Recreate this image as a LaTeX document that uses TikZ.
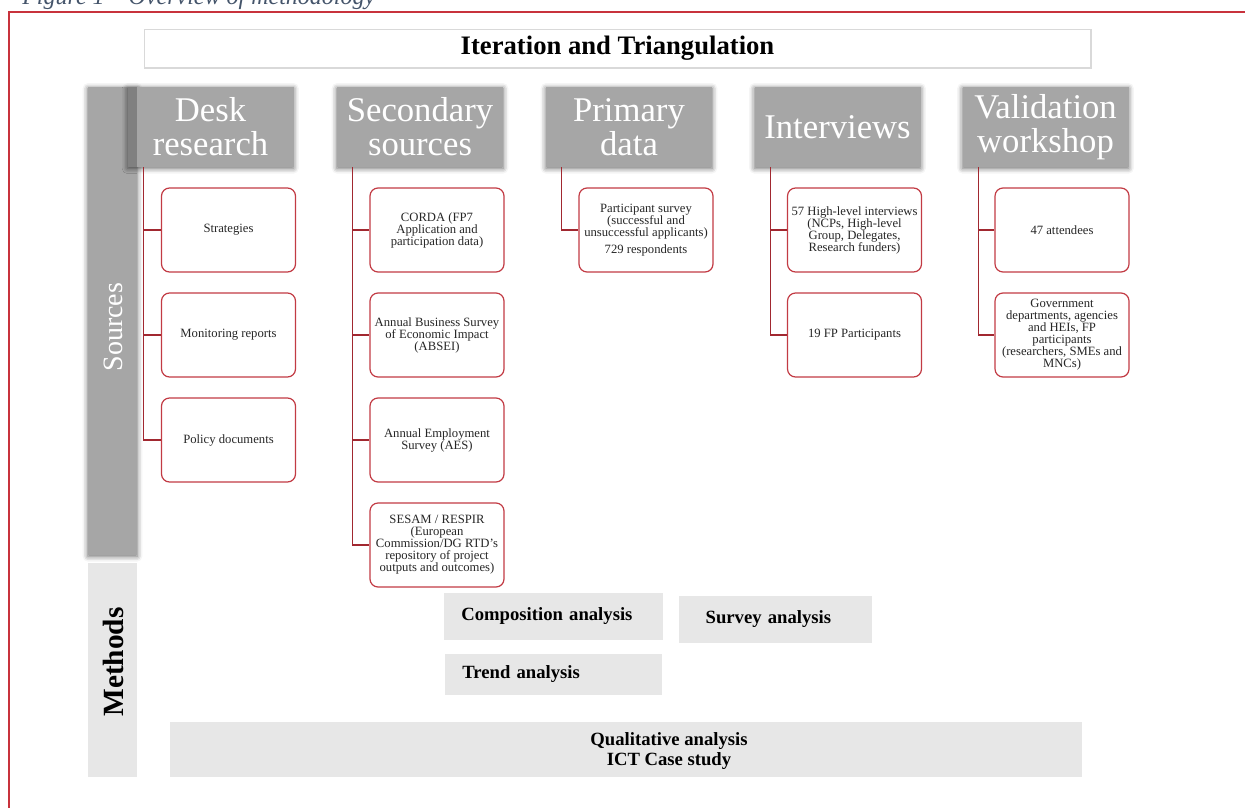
\documentclass[tikz,border=0pt]{standalone}
\usepackage{fontspec}
\setmainfont{Liberation Serif}
\usepackage{xcolor}
\usetikzlibrary{shadows.blur}
\definecolor{framered}{HTML}{C8323C}
\definecolor{boxred}{HTML}{C23B44}
\definecolor{linkred}{HTML}{A12830}
\definecolor{headgray}{HTML}{A6A6A6}
\definecolor{headdark}{HTML}{808080}
\definecolor{methgray}{HTML}{E7E7E7}
\definecolor{capblue}{HTML}{44546A}
\definecolor{titleline}{HTML}{D9D9D9}

\begin{document}
\begin{tikzpicture}[x=0.75pt,y=-0.75pt,
  softshadow/.style={blur shadow={shadow xshift=0pt,shadow yshift=-1pt,shadow blur radius=4pt,shadow opacity=60}},
  header/.style={fill=headgray,text=white,minimum width=124.5pt,minimum height=60pt,inner sep=1pt,align=center,font=\fontsize{26}{25.5}\selectfont,softshadow},
  item/.style={draw=boxred,line width=0.9pt,rounded corners=6pt,fill=white,minimum width=100.5pt,minimum height=63pt,inner xsep=1.5pt,align=center,font=\fontsize{9.5}{9}\selectfont,text=black!85},
  branch/.style={draw=linkred,line width=0.9pt},
  method/.style={fill=methgray,font=\bfseries\fontsize{14}{15}\selectfont}]
\useasboundingbox (0,0) rectangle (1245,807);
\clip (0,0) rectangle (1245,807);
\node[anchor=base west,text=capblue,font=\itshape\fontsize{18}{18}\selectfont,inner sep=0pt] (caption) at (22,4) {Figure 1 -- Overview of methodology};
\draw[framered,line width=1.5pt] (9,830) -- (9,12) -- (1260,12);
\node[draw=titleline,line width=1pt,minimum width=710pt,minimum height=29pt,font=\bfseries\fontsize{20}{20}\selectfont] (iter) at (617.5,48.5) {Iteration and Triangulation};

\node[fill=headgray,minimum width=36.75pt,minimum height=351pt,softshadow] (srcbar) at (112.5,321) {};
\node[rotate=90,text=white,font=\fontsize{21}{21}\selectfont] (srclabel) at (113,327) {Sources};
\node[fill=methgray,minimum width=36.75pt,minimum height=160.5pt] (methbar) at (112.5,670) {};
\node[rotate=90,font=\bfseries\fontsize{22}{22}\selectfont] (methlabel) at (113,662) {Methods};

\node[header] (desk) at (210.5,127) {Desk\\research};
\fill[headdark] (128,87) rectangle (137,167);
\node[header] (second) at (420,127) {Secondary\\sources};
\node[header] (primary) at (629,127) {Primary\\data};
\node[header] (interv) at (837.5,127) {Interviews};
\node[header] (valid) at (1045.5,127) {Validation\\workshop};

\node[item] (strat) at (228.5,230) {Strategies};
\node[item] (monit) at (228.5,335) {Monitoring reports};
\node[item] (policy) at (228.5,440) {Policy documents};
\node[item] (corda) at (437,230) {CORDA (FP7\\Application and\\participation data)};
\node[item] (absei) at (437,335) {Annual Business Survey\\of Economic Impact\\(ABSEI)};
\node[item] (aes) at (437,440) {Annual Employment\\Survey (AES)};
\node[item] (sesam) at (437,545) {SESAM / RESPIR\\(European\\Commission/DG RTD's\\repository of project\\outputs and outcomes)};
\node[item] (survey) at (646,230) {Participant survey\\(successful and\\unsuccessful applicants)\\[4pt]729 respondents};
\node[item] (highlvl) at (854.5,230) {57 High-level interviews\\(NCPs, High-level\\Group, Delegates,\\Research funders)};
\node[item] (fppart) at (854.5,335) {19 FP Participants};
\node[item] (attend) at (1062,230) {47 attendees};
\node[item] (govt) at (1062,335) {Government\\departments, agencies\\and HEIs, FP\\participants\\(researchers, SMEs and\\MNCs)};

\draw[branch] ([xshift=12.4pt]desk.south west) |- (strat.west);
\draw[branch] ([xshift=12.4pt]desk.south west) |- (monit.west);
\draw[branch] ([xshift=12.4pt]desk.south west) |- (policy.west);
\draw[branch] ([xshift=12pt]second.south west) |- (corda.west);
\draw[branch] ([xshift=12pt]second.south west) |- (absei.west);
\draw[branch] ([xshift=12pt]second.south west) |- (aes.west);
\draw[branch] ([xshift=12pt]second.south west) |- (sesam.west);
\draw[branch] ([xshift=12pt]primary.south west) |- (survey.west);
\draw[branch] ([xshift=12pt]interv.south west) |- (highlvl.west);
\draw[branch] ([xshift=12pt]interv.south west) |- (fppart.west);
\draw[branch] ([xshift=12.4pt]valid.south west) |- (attend.west);
\draw[branch] ([xshift=12.4pt]valid.south west) |- (govt.west);

\node[method,minimum height=35.25pt,text width=138.25pt,inner xsep=13pt,align=left] (compos) at (553.5,616.5) {Composition analysis};
\node[method,minimum height=35.25pt,text width=104.75pt,inner xsep=20pt,align=left] (survan) at (775.5,619.5) {Survey analysis};
\node[method,minimum height=30.75pt,text width=136.75pt,inner xsep=13pt,align=left] (trend) at (553.5,674.5) {Trend analysis};
\node[method,minimum width=684pt,minimum height=41.25pt] (qual) at (626,749.5) {};
\node[font=\bfseries\fontsize{14}{15}\selectfont,align=center] (qualtext) at (669,751) {Qualitative analysis\\ICT Case study};
\end{tikzpicture}
\end{document}
